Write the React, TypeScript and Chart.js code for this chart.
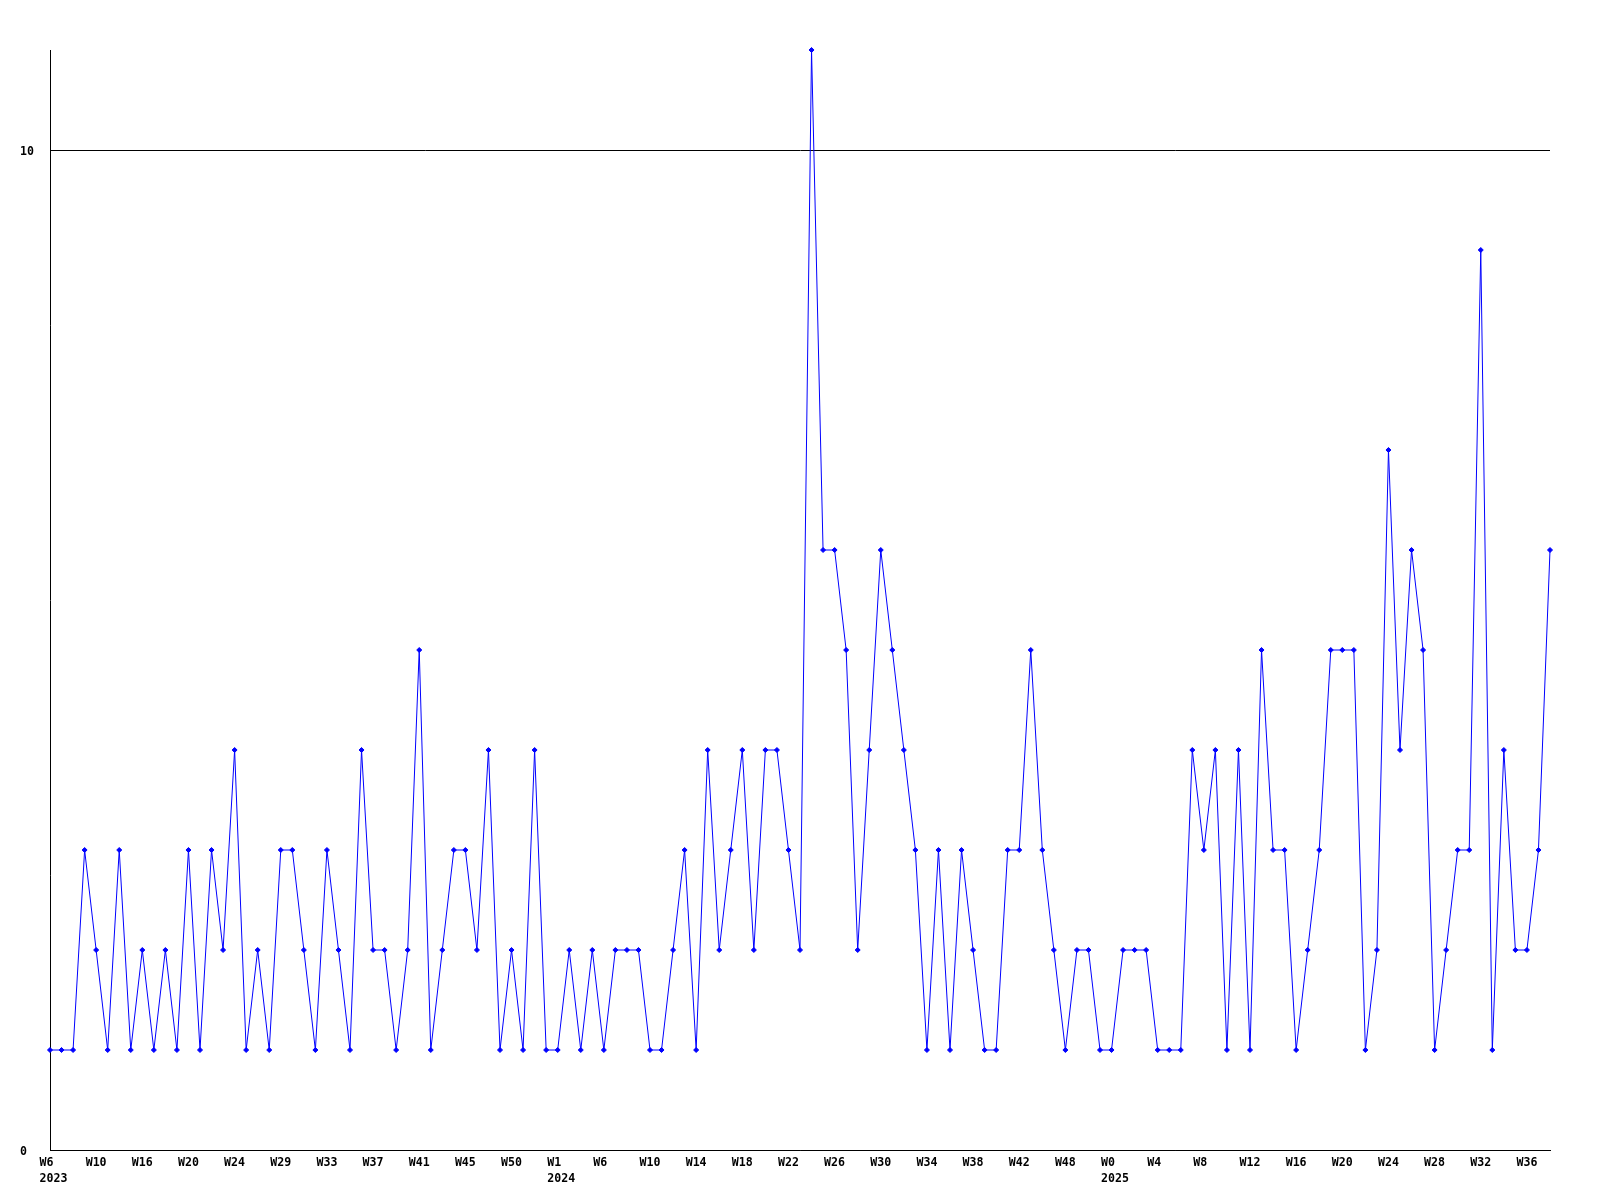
import React, { useEffect, useRef } from "react";
import { Chart, registerables } from "chart.js";

Chart.register(...registerables);

// Weekly values, one per point
const values: number[] = [
  1, 1, 1, 3, 2, 1, 3, 1, 2, 1, 2, 1, 3, 1, 3, 2, 4, 1, 2, 1, 3, 3, 2,
  1, 3, 2, 1, 4, 2, 2, 1, 2, 5, 1, 2, 3, 3, 2, 4, 1, 2, 1, 4, 1, 1, 2,
  1, 2, 1, 2, 2, 2, 1, 1, 2, 3, 1, 4, 2, 3, 4, 2, 4, 4, 3, 2,
  11,
  6, 6, 5, 2, 4, 6, 5, 4, 3, 1, 3, 1, 3, 2, 1, 1, 3, 3, 5, 3, 2, 1,
  2, 2, 1, 1, 2, 2, 2, 1, 1, 1, 4, 3, 4, 1, 4, 1, 5, 3, 3, 1, 2, 3,
  5, 5, 5, 1, 2, 7, 4, 6, 5, 1, 2, 3, 3, 9, 1, 4, 2, 2, 3, 6,
];

// Tick labels, one every `tickEvery` points
const tickEvery = 4;
const weekTicks: string[] = [
  "W6", "W10", "W16", "W20", "W24", "W29", "W33", "W37", "W41", "W45", "W50",
  "W1", "W6", "W10", "W14", "W18", "W22", "W26", "W30", "W34", "W38", "W42", "W48",
  "W0", "W4", "W8", "W12", "W16", "W20", "W24", "W28", "W32", "W36",
];
// year shown under the tick at these tick indexes
const yearTickIndex: number[] = [0, 11, 23];
const yearTickText: string[] = ["2023", "2024", "2025"];

const yTickValues: number[] = [0, 10];
const yMax = 11;

const FONT = { family: "'DejaVu Sans Mono', monospace", size: 11.6, weight: "bold" as const, lineHeight: "16px" };

export default function App() {
  const ref = useRef<HTMLCanvasElement | null>(null);

  useEffect(() => {
    if (!ref.current) return;
    const chart = new Chart(ref.current, {
      type: "line",
      data: {
        datasets: [
          {
            data: values.map((v, i) => ({ x: i, y: v })),
            borderColor: "#0000ff",
            backgroundColor: "#0000ff",
            borderWidth: 1,
            pointStyle: "rectRot",
            pointRadius: 2.5,
            pointBorderWidth: 1,
            pointBackgroundColor: "#0000ff",
            pointBorderColor: "#0000ff",
            tension: 0,
            fill: false,
            clip: false as any,
          },
        ],
      },
      options: {
        animation: false,
        responsive: false,
        events: [],
        layout: { padding: { left: 20, right: 50, top: 50, bottom: 0 } },
        plugins: { legend: { display: false }, tooltip: { enabled: false }, title: { display: false } },
        scales: {
          x: {
            type: "linear",
            min: 0,
            max: values.length - 1,
            grid: { display: false, drawTicks: false },
            border: { display: true, color: "#000", width: 1 },
            afterBuildTicks: (scale: any) => {
              scale.ticks = weekTicks.map((_, k) => ({ value: k * tickEvery }));
            },
            afterFit: (scale: any) => {
              scale.height = 50;
            },
            ticks: {
              autoSkip: false,
              maxRotation: 0,
              minRotation: 0,
              align: "start",
              labelOffset: -10.5,
              padding: 5,
              color: "#000",
              font: FONT,
              callback: (value: any) => {
                const k = Math.round(Number(value) / tickEvery);
                const w = weekTicks[k] ?? "";
                const yi = yearTickIndex.indexOf(k);
                return yi >= 0 ? [w, yearTickText[yi]] : w;
              },
            },
          },
          y: {
            type: "linear",
            min: 0,
            max: yMax,
            afterBuildTicks: (scale: any) => {
              scale.ticks = yTickValues.map((v) => ({ value: v }));
            },
            afterFit: (scale: any) => {
              scale.width = 30;
            },
            grid: { display: true, color: "#000", lineWidth: 1, drawTicks: false },
            border: { display: true, color: "#000", width: 1 },
            ticks: {
              crossAlign: "far",
              padding: 4,
              labelOffset: 2,
              color: "#000",
              font: FONT,
              includeBounds: false,
            },
          },
        },
      },
    });
    return () => chart.destroy();
  }, []);

  return (
    <div style={{ position: "absolute", left: 0, top: 0, width: 1600, height: 1200, background: "#fff" }}>
      <canvas ref={ref} width={1600} height={1200} style={{ width: 1600, height: 1200, display: "block" }} />
    </div>
  );
}
